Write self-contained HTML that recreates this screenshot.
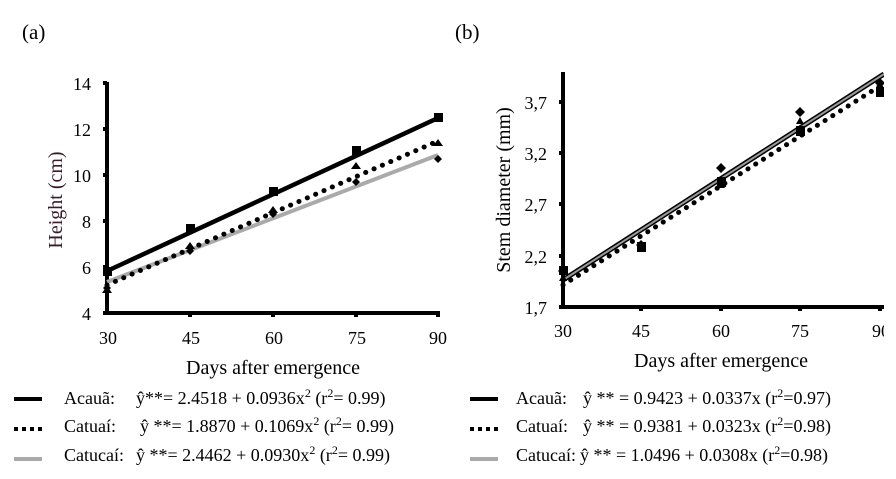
<!DOCTYPE html>
<html><head><meta charset="utf-8"><style>
html,body{margin:0;padding:0;background:#fff;}
svg{display:block;font-family:"Liberation Serif",serif;}
</style></head><body>
<svg width="896" height="479" viewBox="0 0 896 479" xmlns="http://www.w3.org/2000/svg">
<rect width="896" height="479" fill="#fff"/>
<text x="22" y="39" font-size="21">(a)</text>
<text x="455" y="39" font-size="21">(b)</text>

<!-- Chart a -->
<g font-size="18" fill="#000">
<line x1="107" y1="82" x2="107" y2="315" stroke="#000" stroke-width="4"/>
<line x1="105" y1="313" x2="440" y2="313" stroke="#000" stroke-width="4"/>
<g stroke="#000" stroke-width="4">
<line x1="103" y1="83" x2="107" y2="83"/><line x1="103" y1="129" x2="107" y2="129"/>
<line x1="103" y1="175" x2="107" y2="175"/><line x1="103" y1="221" x2="107" y2="221"/>
<line x1="103" y1="267" x2="107" y2="267"/><line x1="103" y1="313" x2="107" y2="313"/>
<line x1="190" y1="313" x2="190" y2="317"/><line x1="273" y1="313" x2="273" y2="317"/>
<line x1="356" y1="313" x2="356" y2="317"/><line x1="438" y1="313" x2="438" y2="317"/>
</g>
<g text-anchor="end">
<text x="91" y="90">14</text><text x="91" y="136">12</text><text x="91" y="182">10</text>
<text x="91" y="228">8</text><text x="91" y="274">6</text><text x="91" y="320">4</text>
</g>
<g text-anchor="middle">
<text x="108" y="344">30</text><text x="191" y="344">45</text><text x="274" y="344">60</text>
<text x="357" y="344">75</text><text x="438" y="344">90</text>
<text x="273" y="374" font-size="20">Days after emergence</text>
</g>
<text transform="translate(62,200) rotate(-90)" text-anchor="middle" font-size="20" fill="#3a1a2a">Height (cm)</text>
<line x1="107" y1="282" x2="438" y2="155" stroke="#aaa" stroke-width="4"/>
<line x1="107" y1="285" x2="438" y2="141" stroke="#000" stroke-width="5" stroke-dasharray="0.1,9" stroke-linecap="round"/>
<line x1="107" y1="271" x2="438" y2="118" stroke="#000" stroke-width="4.5"/>
<g fill="#000">
<rect x="103" y="267" width="9" height="9"/><rect x="186" y="224" width="9" height="9"/>
<rect x="269" y="187" width="9" height="9"/><rect x="352" y="146" width="9" height="9"/>
<rect x="434" y="113" width="9" height="9"/>
<path d="M107 286l5 7h-10z M190 242l5 7h-10z M273 206l5 7h-10z M356 162l5 7h-10z M438 139l5 7h-10z"/>
<path d="M107 284l4 4-4 4-4-4z M190 247l4 4-4 4-4-4z M273 210l4 4-4 4-4-4z M356 178l4 4-4 4-4-4z M438 155l4 4-4 4-4-4z"/>
</g>
</g>

<!-- Chart b -->
<svg x="0" y="0" width="884" height="479">
<g font-size="18" fill="#000">
<line x1="563" y1="72" x2="563" y2="309" stroke="#000" stroke-width="4"/>
<line x1="561" y1="307" x2="884" y2="307" stroke="#000" stroke-width="4"/>
<g stroke="#000" stroke-width="4">
<line x1="559" y1="102" x2="563" y2="102"/><line x1="559" y1="153" x2="563" y2="153"/>
<line x1="559" y1="204" x2="563" y2="204"/><line x1="559" y1="256" x2="563" y2="256"/>
<line x1="559" y1="307" x2="563" y2="307"/>
<line x1="641" y1="307" x2="641" y2="311"/><line x1="721" y1="307" x2="721" y2="311"/>
<line x1="800" y1="307" x2="800" y2="311"/><line x1="880" y1="307" x2="880" y2="311"/>
</g>
<g text-anchor="end">
<text x="547" y="109">3,7</text><text x="547" y="160">3,2</text><text x="547" y="211">2,7</text>
<text x="547" y="263">2,2</text><text x="547" y="314">1,7</text>
</g>
<g text-anchor="middle">
<text x="563" y="337">30</text><text x="641" y="337">45</text><text x="721" y="337">60</text>
<text x="800" y="337">75</text><text x="881" y="337">90</text>
<text x="721" y="367" font-size="20">Days after emergence</text>
</g>
<text transform="translate(510,190) rotate(-90)" text-anchor="middle" font-size="20">Stem diameter (mm)</text>
<line x1="563" y1="285" x2="880" y2="86" stroke="#000" stroke-width="5" stroke-dasharray="0.1,9" stroke-linecap="round"/>
<line x1="563" y1="280" x2="884" y2="74" stroke="#000" stroke-width="5"/>
<line x1="563" y1="280" x2="884" y2="74" stroke="#999" stroke-width="2"/>
<g fill="#000">
<rect x="559" y="266" width="9" height="9"/><rect x="637" y="242" width="9" height="10"/>
<rect x="717" y="177" width="9" height="10"/><rect x="796" y="126" width="9" height="10"/>
<rect x="876" y="87" width="9" height="10"/>
<path d="M563 274l4 7h-8z M641 245l4 7h-8z M721 181l4 7h-8z M800 117l4 7h-8z M880 81l4 7h-8z"/>
<path d="M563 266l5 5-5 5-5-5z M641 240l5 5-5 5-5-5z M721 163l5 5-5 5-5-5z M800 107l5 5-5 5-5-5z M880 78l5 5-5 5-5-5z"/>
</g>
</g>
</svg>

<!-- Legend -->
<g font-size="18" fill="#000">
<line x1="14" y1="399" x2="42" y2="399" stroke="#000" stroke-width="4"/>
<line x1="14" y1="429" x2="42" y2="429" stroke="#000" stroke-width="4" stroke-dasharray="4,4"/>
<line x1="14" y1="459" x2="42" y2="459" stroke="#aaa" stroke-width="4"/>
<text x="64" y="404">Acauã:</text>
<text x="136" y="404">ŷ**= 2.4518 + 0.0936x<tspan font-size="12" dy="-7">2</tspan><tspan dy="7"> (r</tspan><tspan font-size="12" dy="-7">2</tspan><tspan dy="7">= 0.99)</tspan></text>
<text x="64" y="432">Catuaí:</text>
<text x="140" y="432">ŷ **= 1.8870 + 0.1069x<tspan font-size="12" dy="-7">2</tspan><tspan dy="7"> (r</tspan><tspan font-size="12" dy="-7">2</tspan><tspan dy="7">= 0.99)</tspan></text>
<text x="64" y="461">Catucaí:</text>
<text x="136" y="461">ŷ **= 2.4462 + 0.0930x<tspan font-size="12" dy="-7">2</tspan><tspan dy="7"> (r</tspan><tspan font-size="12" dy="-7">2</tspan><tspan dy="7">= 0.99)</tspan></text>

<line x1="470" y1="399" x2="498" y2="399" stroke="#000" stroke-width="4"/>
<line x1="470" y1="429" x2="498" y2="429" stroke="#000" stroke-width="4" stroke-dasharray="4,4"/>
<line x1="470" y1="459" x2="498" y2="459" stroke="#aaa" stroke-width="4"/>
<text x="516" y="404">Acauã:</text>
<text x="583" y="404">ŷ ** = 0.9423 + 0.0337x (r<tspan font-size="12" dy="-7">2</tspan><tspan dy="7">=0.97)</tspan></text>
<text x="516" y="432">Catuaí:</text>
<text x="583" y="432">ŷ ** = 0.9381 + 0.0323x (r<tspan font-size="12" dy="-7">2</tspan><tspan dy="7">=0.98)</tspan></text>
<text x="516" y="461">Catucaí:</text>
<text x="580" y="461">ŷ ** = 1.0496 + 0.0308x (r<tspan font-size="12" dy="-7">2</tspan><tspan dy="7">=0.98)</tspan></text>
</g>
</svg>
</body></html>
